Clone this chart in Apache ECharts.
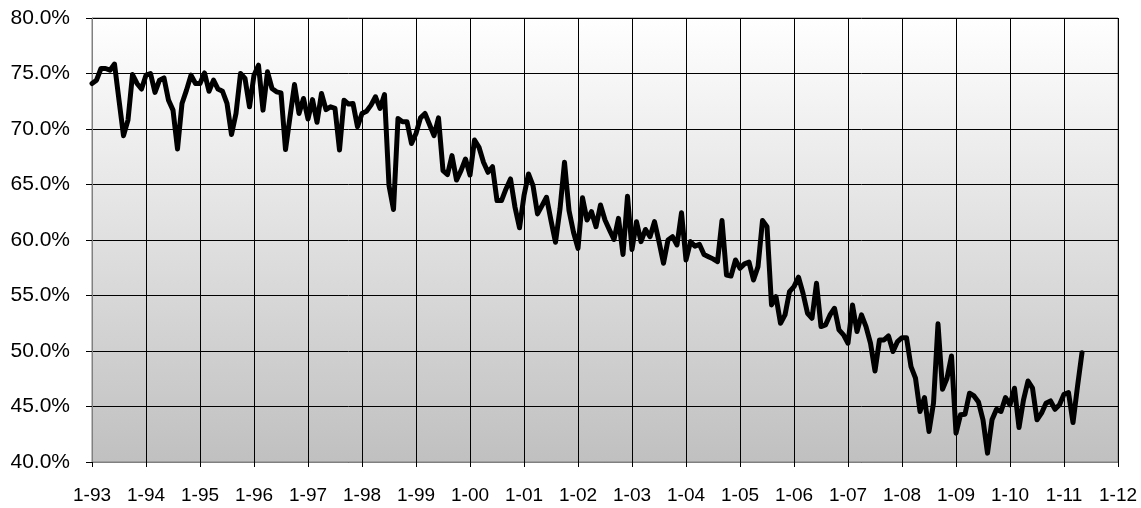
<!DOCTYPE html>
<html>
<head>
<meta charset="utf-8">
<script src="https://cdn.jsdelivr.net/npm/echarts@6/dist/echarts.min.js"></script>
<style>
html,body{margin:0;padding:0;background:#fff;}
#c{width:1141px;height:508px;}
</style>
</head>
<body>
<div id="c"></div>
<script>
// Monthly values (percent), Jan 1993 .. May 2011
const y1993 = [74.1, 74.4, 75.45, 75.45, 75.3, 75.85, 72.6, 69.4, 70.8, 74.9, 74.1, 73.6];
const y1994 = [74.85, 75.0, 73.3, 74.4, 74.6, 72.6, 71.7, 68.2, 72.3, 73.5, 74.85, 74.1];
const y1995 = [74.1, 75.05, 73.4, 74.4, 73.6, 73.4, 72.3, 69.5, 71.4, 75.0, 74.55, 72.0];
const y1996 = [74.85, 75.75, 71.7, 75.15, 73.65, 73.35, 73.25, 68.15, 71.1, 74.0, 71.4, 72.75];
const y1997 = [70.9, 72.65, 70.6, 73.2, 71.75, 72.0, 71.85, 68.1, 72.6, 72.25, 72.3, 70.2];
const y1998 = [71.4, 71.6, 72.15, 72.9, 71.85, 73.1, 64.9, 62.75, 70.95, 70.65, 70.65, 68.7];
const y1999 = [69.6, 71.0, 71.4, 70.4, 69.4, 71.0, 66.25, 65.9, 67.6, 65.4, 66.25, 67.3];
const y2000 = [65.85, 69.0, 68.35, 67.0, 66.1, 66.6, 63.55, 63.55, 64.6, 65.5, 62.95, 61.1];
const y2001 = [64.0, 65.95, 64.9, 62.35, 63.1, 63.85, 61.75, 59.8, 62.8, 67.0, 62.65, 60.7];
const y2002 = [59.25, 63.8, 61.8, 62.55, 61.2, 63.15, 61.8, 60.9, 60.05, 61.95, 58.7, 63.95];
const y2003 = [59.15, 61.65, 59.85, 60.95, 60.3, 61.65, 59.85, 57.9, 60.0, 60.3, 59.55, 62.45];
const y2004 = [58.2, 59.85, 59.45, 59.6, 58.7, 58.5, 58.3, 58.05, 61.75, 56.85, 56.75, 58.2];
const y2005 = [57.45, 57.85, 58.0, 56.4, 57.6, 61.75, 61.2, 54.15, 54.9, 52.5, 53.25, 55.35];
const y2006 = [55.8, 56.65, 55.2, 53.4, 52.95, 56.1, 52.2, 52.35, 53.25, 53.85, 51.9, 51.45];
const y2007 = [50.7, 54.15, 51.75, 53.25, 52.2, 50.7, 48.2, 51.0, 51.0, 51.35, 49.95, 50.85];
const y2008 = [51.2, 51.2, 48.6, 47.55, 44.55, 45.8, 42.75, 45.3, 52.45, 46.55, 47.55, 49.55];
const y2009 = [42.6, 44.25, 44.3, 46.2, 45.95, 45.4, 43.8, 40.8, 43.8, 44.75, 44.55, 45.8];
const y2010 = [45.15, 46.65, 43.1, 45.6, 47.3, 46.65, 43.8, 44.4, 45.3, 45.5, 44.75, 45.15];
const y2011 = [46.1, 46.25, 43.55, 46.8, 49.85];

const xTickLabels = ['1-93','1-94','1-95','1-96','1-97','1-98','1-99','1-00','1-01','1-02',
                     '1-03','1-04','1-05','1-06','1-07','1-08','1-09','1-10','1-11','1-12'];

const allValues = [].concat(y1993, y1994, y1995, y1996, y1997, y1998, y1999, y2000, y2001,
  y2002, y2003, y2004, y2005, y2006, y2007, y2008, y2009, y2010, y2011);
const seriesData = allValues.map((v, i) => [i, v]);

const chart = echarts.init(document.getElementById('c'), null, {renderer: 'canvas'});
chart.setOption({
  animation: false,
  grid: {
    left: 92, right: 23, top: 18, bottom: 46,
    show: true,
    borderColor: '#808080',
    borderWidth: 1,
    backgroundColor: {
      type: 'linear', x: 0, y: 0, x2: 0, y2: 1,
      colorStops: [{offset: 0, color: '#ffffff'}, {offset: 1, color: '#c0c0c0'}]
    }
  },
  xAxis: {
    type: 'value',
    min: 0, max: 228, interval: 12,
    axisLine: {show: true, lineStyle: {color: '#808080', width: 1}},
    axisTick: {show: true, length: 5, lineStyle: {color: '#000'}},
    axisLabel: {
      margin: 24, color: '#000', fontFamily: 'Liberation Sans, Arial', fontSize: 19,
      formatter: v => xTickLabels[Math.round(v / 12)]
    },
    splitLine: {show: true, lineStyle: {color: '#000', width: 1}}
  },
  yAxis: {
    type: 'value',
    min: 40, max: 80, interval: 5,
    axisLine: {show: true, lineStyle: {color: '#808080', width: 1}},
    axisTick: {show: true, length: 6, lineStyle: {color: '#000'}},
    axisLabel: {
      margin: 22, color: '#000', fontFamily: 'Liberation Sans, Arial', fontSize: 21,
      formatter: v => v.toFixed(1) + '%'
    },
    splitLine: {show: true, lineStyle: {color: '#000', width: 1}}
  },
  series: [{
    type: 'line',
    data: seriesData,
    showSymbol: false,
    symbol: 'none',
    smooth: false,
    lineStyle: {color: '#000', width: 5, cap: 'round', join: 'round'},
    z: 5
  }]
});
</script>
</body>
</html>
